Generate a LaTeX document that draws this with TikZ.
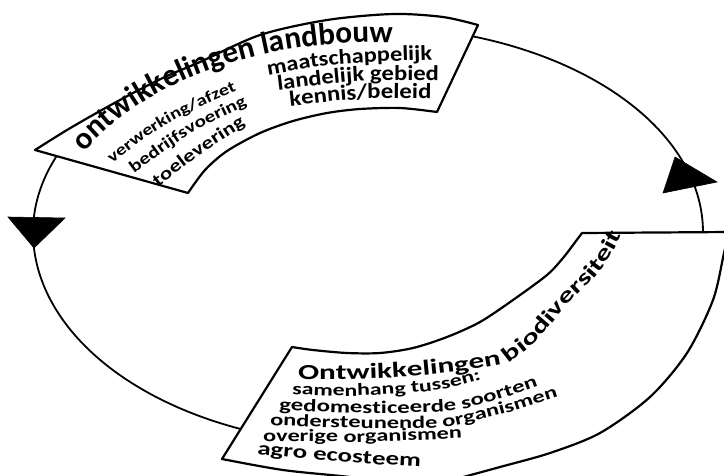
\documentclass[tikz,border=0pt]{standalone}
\usepackage{fontspec}
\newfontfamily\cf{Carlito}
\newfontfamily\cfs[FakeStretch=1.15]{Carlito}
\newfontfamily\cfl[FakeStretch=1.25]{Carlito}
\newfontfamily\cfw[FakeStretch=1.4]{Carlito}
\newfontfamily\cft[FakeStretch=1.45]{Carlito}
\usetikzlibrary{decorations.text}
\newsavebox\tbox
\newdimen\twid
% #1 macro to define, #2 font switch, #3 target length (pt), #4 text
\newcommand\setfs[4]{%
  \sbox\tbox{#2\bfseries\fontsize{20}{20}\selectfont #4}%
  \twid=\wd\tbox
  \pgfmathsetmacro#1{20*#3/\twid}%
}
% #1 font switch, #2 size, #3 text, #4 path
\newcommand\curvetext[4]{%
  \path[along={|#1\bfseries\fontsize{#2}{#2}\selectfont|#3}] #4;%
}
\tikzset{
  outline/.style={draw=black, line width=2.2pt, fill=white, line join=round},
  ring/.style={draw=black, line width=1.8pt},
  tip/.style={fill=black, draw=black, line width=0.6pt, line join=miter},
  along/.style={decorate, decoration={text along path, text align=left, text={#1}}},
}
\begin{document}
\setfs{\fsA}{\cf}{336}{ontwikkelingen landbouw}%
\setfs{\fsB}{\cfl}{144}{verwerking/afzet}%
\setfs{\fsC}{\cfl}{132}{bedrijfsvoering}%
\setfs{\fsD}{\cfl}{107}{toelevering}%
\setfs{\fsE}{\cfs}{165}{maatschappelijk}%
\setfs{\fsF}{\cfs}{161}{landelijk gebied}%
\setfs{\fsG}{\cfs}{141}{kennis/beleid}%
\setfs{\fsH}{\cft}{381}{Ontwikkelingen biodiversiteit}%
\setfs{\fsI}{\cfw}{191}{samenhang tussen:}%
\setfs{\fsJ}{\cfw}{262}{gedomesticeerde soorten}%
\setfs{\fsK}{\cfw}{291}{ondersteunende organismen}%
\setfs{\fsL}{\cfw}{198}{overige organismen}%
\setfs{\fsM}{\cfw}{163}{agro ecosteem}%
\begin{tikzpicture}[x=1pt, y=-1pt]
\useasboundingbox (0,0) rectangle (724,475);
\clip (0,0) rectangle (724,475);
% cycle (ellipse) segments
\draw[ring] plot[domain=287:362, samples=60] ({368+335*cos(\x)}, {232+206*sin(\x)});
\draw[ring] plot[domain=110:203, samples=80] ({368+335*cos(\x)}, {232+(\x>180?206:213)*sin(\x)});
% arrow heads
\path[tip] (8,217) coordinate (la1) -- (65,218) coordinate (la2) -- (34,248) coordinate (la3) -- cycle;
\path[tip] (675,157) coordinate (ra1) -- (717,182) coordinate (ra2) -- (663,193) coordinate (ra3) -- cycle;
% top banner
\draw[outline] plot[smooth] coordinates {(35,150) (67,130) (100,111) (133,93) (167,76) (200,62) (260,35) (327,20) (393,14) (443,17) (478,25)}
  -- plot[smooth] coordinates {(437,112) (400,108) (360,109) (327,113) (293,121) (260,133) (227,151) (205,170) (188,193)} -- cycle;
% bottom banner
\draw[outline] plot[smooth] coordinates {(292,347) (313,350) (347,353) (380,353) (413,348) (447,337) (480,322) (513,300) (547,275) (563,258) (573,245) (582,233)}
  -- (729,232)
  -- plot[smooth] coordinates {(729,232) (724,253) (713,300) (687,353) (650,397) (600,433) (550,453) (500,467) (467,476) (430,486)}
  -- plot[smooth] coordinates {(400,484) (350,477) (283,470) (222,459)} -- cycle;
% top texts
\curvetext{\cf}{\fsA}{ontwikkelingen landbouw}{plot[domain=207.3:290, samples=100] ({374+326*cos(\x)}, {245+202.5*sin(\x)})}
\curvetext{\cfl}{\fsB}{verwerking/afzet}{(112,163) .. controls (168,121) .. (236,91) -- ++(27,-12)}
\curvetext{\cfl}{\fsC}{bedrijfsvoering}{(134,173) .. controls (189,133) .. (247,105) -- ++(27,-13)}
\curvetext{\cfl}{\fsD}{toelevering}{(158,187) .. controls (200,154) .. (246,125) -- ++(25,-16)}
\curvetext{\cfs}{\fsE}{maatschappelijk}{(268,75) .. controls (335,63) .. (433,60) -- ++(30,-1)}
\curvetext{\cfs}{\fsF}{landelijk gebied}{(278,90) .. controls (360,80) .. (440,81) -- ++(30,0)}
\curvetext{\cfs}{\fsG}{kennis/beleid}{(290,106) .. controls (362,98) .. (432,99) -- ++(30,0)}
% bottom texts
\curvetext{\cft}{\fsH}{Ontwikkelingen biodiversiteit}{plot[smooth] coordinates {(298,379) (350,379) (403,377) (455,372) (503,364) (518,356) (536,341) (551,324) (571,301) (594,278) (610,257) (623,233)} -- ++(10,-25)}
\curvetext{\cfw}{\fsI}{samenhang tussen:}{plot[smooth] coordinates {(292,394) (350,396) (410,393) (450,388) (484,379)} -- ++(29,-8)}
\curvetext{\cfw}{\fsJ}{gedomesticeerde soorten}{plot[smooth] coordinates {(279,410) (360,413) (440,412) (480,405) (515,394) (540,385)} -- ++(28,-10)}
\curvetext{\cfw}{\fsK}{ondersteunende organismen}{plot[smooth] coordinates {(270,425) (350,428) (433,428) (470,422) (510,412) (535,404) (560,396)} -- ++(28,-9)}
\curvetext{\cfw}{\fsL}{overige organismen}{plot[smooth] coordinates {(263,441) (360,442) (463,438)} -- ++(30,-1)}
\curvetext{\cfw}{\fsM}{agro ecosteem}{plot[smooth] coordinates {(257,454) (340,462) (422,467)} -- ++(30,2)}
\end{tikzpicture}
\end{document}
